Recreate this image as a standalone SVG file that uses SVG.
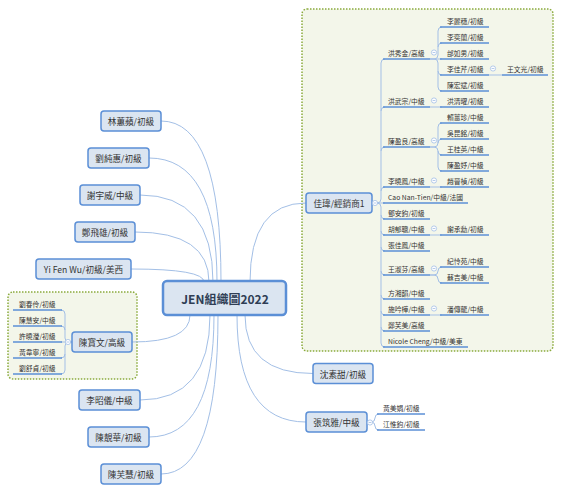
<svg xmlns="http://www.w3.org/2000/svg" width="562" height="493" viewBox="0 0 562 493">
<style>
text{font-family:"Noto Sans CJK TC","Noto Sans",sans-serif;fill:#333;dominant-baseline:central}
.grp{fill:#f3f6ea;stroke:#8aaa3c;stroke-width:1.5;stroke-dasharray:1.5 1.5}
.box{fill:#dbe5f1;stroke:#5b8fd6;stroke-width:1.5}
.main{fill:#dbe5f1;stroke:#5b8fd6;stroke-width:2.5}
.t1{font-size:8.6px;text-anchor:middle}
.t2{font-size:6.8px}
.tm{font-size:12px;font-weight:bold;text-anchor:middle;fill:#2f3e55}
.con{fill:none;stroke:#a3bfe6;stroke-width:1}
.ul{stroke:#5b8fd6;stroke-width:1.6}
.col{fill:#fff;stroke:#a3bfe6;stroke-width:0.8}
.mn{stroke:#a3bfe6;stroke-width:0.8}
</style>
<defs>
<g id="btn"><circle class="col" cx="0" cy="0" r="2.6"/><line class="mn" x1="-1.4" y1="0" x2="1.4" y2="0"/></g>
</defs>
<rect class="grp" x="302" y="9" width="251" height="342" rx="5"/>
<rect class="grp" x="8" y="292" width="129" height="87" rx="5"/>
<g id="connectors">
<path class="con" d="M221 282 Q221 121 161 121"/>
<path class="con" d="M217 282 Q217 158 149 158"/>
<path class="con" d="M213 282 Q213 195 140 195"/>
<path class="con" d="M209 282 Q209 232 135 232"/>
<path class="con" d="M204 282 Q204 269 131 269"/>
<path class="con" d="M190 315 Q190 342 132 342"/>
<path class="con" d="M210 315 Q210 400 140 400"/>
<path class="con" d="M214 315 Q214 437 149 437"/>
<path class="con" d="M218 315 Q218 474 161 474"/>
<path class="con" d="M250 282 Q250 203 306 203"/>
<path class="con" d="M245 315 Q245 373.5 313 373.5"/>
<path class="con" d="M237 315 Q237 422 306 422"/>
<path class="con" d="M372 203 H377 Q381 203 381 199 V63 Q381 59 385 59"/>
<path class="con" d="M381 111 Q381 107 385 107"/>
<path class="con" d="M381 151 Q381 147 385 147"/>
<path class="con" d="M381 191 Q381 187 385 187"/>
<path class="con" d="M377 203 H385"/>
<path class="con" d="M372 203 H377 Q381 203 381 207 V343 Q381 347 385 347"/>
<path class="con" d="M381 215 Q381 219 385 219"/>
<path class="con" d="M381 231 Q381 235 385 235"/>
<path class="con" d="M381 247 Q381 251 385 251"/>
<path class="con" d="M381 271 Q381 275 385 275"/>
<path class="con" d="M381 295 Q381 299 385 299"/>
<path class="con" d="M381 311 Q381 315 385 315"/>
<path class="con" d="M381 327 Q381 331 385 331"/>
<path class="con" d="M430 59 H434 Q438 59 438 55 V31 Q438 27 442 27"/>
<path class="con" d="M438 47 Q438 43 442 43"/>
<path class="con" d="M430 59 H442"/>
<path class="con" d="M430 59 H434 Q438 59 438 63 V87 Q438 91 442 91"/>
<path class="con" d="M438 71 Q438 75 442 75"/>
<path class="con" d="M430 107 H442"/>
<path class="con" d="M430 147 H434 Q438 147 438 143 V127 Q438 123 442 123"/>
<path class="con" d="M438 143 Q438 139 442 139"/>
<path class="con" d="M430 147 H434 Q438 147 438 151 V167 Q438 171 442 171"/>
<path class="con" d="M438 151 Q438 155 442 155"/>
<path class="con" d="M430 187 H442"/>
<path class="con" d="M430 235 H442"/>
<path class="con" d="M430 275 H434 Q438 275 438 271 Q438 267 442 267"/>
<path class="con" d="M430 275 H434 Q438 275 438 279 Q438 283 442 283"/>
<path class="con" d="M430 315 H442"/>
<path class="con" d="M489 75 H502"/>
<path class="con" d="M367 422 H371 Q375 422 375 418 Q375 414 379 414"/>
<path class="con" d="M367 422 H371 Q375 422 375 426 Q375 430 379 430"/>
<path class="con" d="M72 342 H69 Q65 342 65 338 V314 Q65 310 61 310"/>
<path class="con" d="M65 330 Q65 326 61 326"/>
<path class="con" d="M72 342 H61"/>
<path class="con" d="M72 342 H69 Q65 342 65 346 V370 Q65 374 61 374"/>
<path class="con" d="M65 354 Q65 358 61 358"/>
</g>
<g id="main"><rect class="main" x="163" y="281" width="123" height="34" rx="4"/><text class="tm" x="225" y="298">JEN組織圖2022</text></g>
<g id="n-lin"><rect class="box" x="101" y="111" width="60" height="20" rx="3"/><text class="t1" x="131" y="121">林蕙蘋/初級</text></g>
<g id="n-liu"><rect class="box" x="88" y="148" width="61" height="20" rx="3"/><text class="t1" x="118.5" y="158">劉純惠/初級</text></g>
<g id="n-xie"><rect class="box" x="80" y="185" width="60" height="20" rx="3"/><text class="t1" x="110" y="195">謝宇威/中級</text></g>
<g id="n-zheng"><rect class="box" x="75" y="222" width="60" height="20" rx="3"/><text class="t1" x="105" y="232">鄭飛雄/初級</text></g>
<g id="n-wu"><rect class="box" x="36" y="259" width="95" height="20" rx="3"/><text class="t1" x="83.5" y="269">Yi Fen Wu/初級/美西</text></g>
<g id="n-chenbw"><rect class="box" x="72" y="332" width="60" height="20" rx="3"/><text class="t1" x="102" y="342">陳寶文/高級</text><use href="#btn" x="68" y="342"/></g>
<g id="n-lizy"><rect class="box" x="79" y="390" width="61" height="20" rx="3"/><text class="t1" x="109.5" y="400">李昭儀/中級</text></g>
<g id="n-chenjh"><rect class="box" x="88" y="427" width="61" height="20" rx="3"/><text class="t1" x="118.5" y="437">陳靚華/初級</text></g>
<g id="n-chenfh"><rect class="box" x="101" y="464" width="60" height="20" rx="3"/><text class="t1" x="131" y="474">陳芙慧/初級</text></g>
<g id="n-jiawei"><rect class="box" x="306" y="193" width="66" height="20" rx="3"/><text class="t1" x="339" y="203">佳瑋/經銷商1</text><use href="#btn" x="375" y="203"/></g>
<g id="n-shen"><rect class="box" x="313" y="363.5" width="60" height="20" rx="3"/><text class="t1" x="343" y="373.5">沈素甜/初級</text></g>
<g id="n-zhang"><rect class="box" x="306" y="412" width="61" height="20" rx="3"/><text class="t1" x="336.5" y="422">張筑雅/中級</text><use href="#btn" x="370" y="422.5"/></g>
<g id="c-l1"><line class="ul" x1="13" y1="310" x2="62" y2="310"/><text class="t2" x="19" y="303.5">劉春伶/初級</text></g>
<g id="c-l2"><line class="ul" x1="13" y1="326" x2="62" y2="326"/><text class="t2" x="19" y="319.5">陳慧安/中級</text></g>
<g id="c-l3"><line class="ul" x1="13" y1="342" x2="62" y2="342"/><text class="t2" x="19" y="335.5">許曉瀅/初級</text></g>
<g id="c-l4"><line class="ul" x1="13" y1="358" x2="62" y2="358"/><text class="t2" x="19" y="351.5">黃韋寧/初級</text></g>
<g id="c-l5"><line class="ul" x1="13" y1="374" x2="62" y2="374"/><text class="t2" x="19" y="367.5">劉舒貞/初級</text></g>
<g id="c-z1"><line class="ul" x1="377" y1="414" x2="425" y2="414"/><text class="t2" x="383" y="407.5">黃美娟/初級</text></g>
<g id="c-z2"><line class="ul" x1="377" y1="430" x2="425" y2="430"/><text class="t2" x="383" y="423.5">江惟鈞/初級</text></g>
<g id="r-hxj"><line class="ul" x1="383" y1="59" x2="430" y2="59"/><text class="t2" x="388" y="52.5">洪秀金/高級</text><use href="#btn" x="434" y="52.5"/></g>
<g id="r-hwz"><line class="ul" x1="383" y1="107" x2="430" y2="107"/><text class="t2" x="388" y="100.5">洪武宗/中級</text><use href="#btn" x="434" y="100.5"/></g>
<g id="r-cyl"><line class="ul" x1="383" y1="147" x2="430" y2="147"/><text class="t2" x="388" y="140.5">陳盈良/高級</text><use href="#btn" x="434" y="140.5"/></g>
<g id="r-lxf"><line class="ul" x1="383" y1="187" x2="430" y2="187"/><text class="t2" x="388" y="180.5">李曉鳳/中級</text><use href="#btn" x="434" y="180.5"/></g>
<g id="r-cao"><line class="ul" x1="383" y1="203" x2="468" y2="203"/><text class="t2" x="388" y="196.5">Cao Nan-Tien/中級/法國</text></g>
<g id="r-daj"><line class="ul" x1="383" y1="219" x2="430" y2="219"/><text class="t2" x="388" y="212.5">鄧安鈞/初級</text></g>
<g id="r-hyc"><line class="ul" x1="383" y1="235" x2="430" y2="235"/><text class="t2" x="388" y="228.5">胡郁聰/中級</text><use href="#btn" x="434" y="228.5"/></g>
<g id="r-zjf"><line class="ul" x1="383" y1="251" x2="430" y2="251"/><text class="t2" x="388" y="244.5">張佳鳳/中級</text></g>
<g id="r-wsf"><line class="ul" x1="383" y1="275" x2="430" y2="275"/><text class="t2" x="388" y="268.5">王淑芬/高級</text><use href="#btn" x="434" y="268.5"/></g>
<g id="r-fxy"><line class="ul" x1="383" y1="299" x2="430" y2="299"/><text class="t2" x="388" y="292.5">方湘韻/中級</text></g>
<g id="r-syh"><line class="ul" x1="383" y1="315" x2="430" y2="315"/><text class="t2" x="388" y="308.5">施吟樺/中級</text><use href="#btn" x="434" y="308.5"/></g>
<g id="r-zfm"><line class="ul" x1="383" y1="331" x2="430" y2="331"/><text class="t2" x="388" y="324.5">鄭芙美/高級</text></g>
<g id="r-nic"><line class="ul" x1="383" y1="347" x2="468" y2="347"/><text class="t2" x="388" y="340.5">Nicole Cheng/中級/美東</text></g>
<g id="s-1"><line class="ul" x1="440" y1="27" x2="489" y2="27"/><text class="t2" x="447" y="20.5">李麗穗/初級</text></g>
<g id="s-2"><line class="ul" x1="440" y1="43" x2="489" y2="43"/><text class="t2" x="447" y="36.5">李奕蘭/初級</text></g>
<g id="s-3"><line class="ul" x1="440" y1="59" x2="489" y2="59"/><text class="t2" x="447" y="52.5">邰如男/初級</text></g>
<g id="s-4"><line class="ul" x1="440" y1="75" x2="489" y2="75"/><text class="t2" x="447" y="68.5">李佳芹/初級</text><use href="#btn" x="493" y="68.5"/></g>
<g id="s-5"><line class="ul" x1="440" y1="91" x2="489" y2="91"/><text class="t2" x="447" y="84.5">陳宏斌/初級</text></g>
<g id="s-6"><line class="ul" x1="440" y1="107" x2="489" y2="107"/><text class="t2" x="447" y="100.5">洪清曜/初級</text></g>
<g id="s-7"><line class="ul" x1="440" y1="123" x2="489" y2="123"/><text class="t2" x="447" y="116.5">賴薑珍/中級</text></g>
<g id="s-8"><line class="ul" x1="440" y1="139" x2="489" y2="139"/><text class="t2" x="447" y="132.5">吳昆銘/初級</text></g>
<g id="s-9"><line class="ul" x1="440" y1="155" x2="489" y2="155"/><text class="t2" x="447" y="148.5">王桂英/中級</text></g>
<g id="s-10"><line class="ul" x1="440" y1="171" x2="489" y2="171"/><text class="t2" x="447" y="164.5">陳盈妤/中級</text></g>
<g id="s-11"><line class="ul" x1="440" y1="187" x2="489" y2="187"/><text class="t2" x="447" y="180.5">趙晉楨/初級</text></g>
<g id="s-12"><line class="ul" x1="440" y1="235" x2="489" y2="235"/><text class="t2" x="447" y="228.5">謝承勳/初級</text></g>
<g id="s-13"><line class="ul" x1="440" y1="267" x2="489" y2="267"/><text class="t2" x="447" y="260.5">紀怜苑/中級</text></g>
<g id="s-14"><line class="ul" x1="440" y1="283" x2="489" y2="283"/><text class="t2" x="447" y="276.5">蘇吉美/中級</text></g>
<g id="s-15"><line class="ul" x1="440" y1="315" x2="489" y2="315"/><text class="t2" x="447" y="308.5">潘傳龍/中級</text></g>
<g id="s-16"><line class="ul" x1="502" y1="75" x2="548" y2="75"/><text class="t2" x="507" y="68.5">王文光/初級</text></g>
</svg>
